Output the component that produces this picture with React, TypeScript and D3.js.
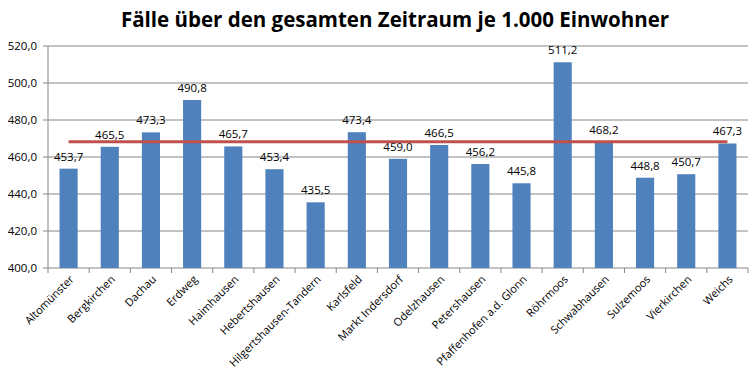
import * as d3 from 'd3';

const places = [
  'Altomünster', 'Bergkirchen', 'Dachau', 'Erdweg', 'Haimhausen', 'Hebertshausen',
  'Hilgertshausen-Tandern', 'Karlsfeld', 'Markt Indersdorf', 'Odelzhausen', 'Petershausen',
  'Pfaffenhofen a.d. Glonn', 'Röhrmoos', 'Schwabhausen', 'Sulzemoos', 'Vierkirchen', 'Weichs',
];
const cases = [
  453.7, 465.5, 473.3, 490.8, 465.7, 453.4, 435.5, 473.4, 459.0, 466.5, 456.2, 445.8, 511.2,
  468.2, 448.8, 450.7, 467.3,
];
const countyAverage = 468.3;
const yTicks = [400, 420, 440, 460, 480, 500, 520];

const W = 752;
const H = 390;
const left = 48;
const right = 748;
const top = 46;
const bottom = 268;
const font = 'Open Sans, sans-serif';

export default function App() {
  const x = d3.scaleBand<string>().domain(places).range([left, right]).paddingInner(0.56).paddingOuter(0.28);
  const y = d3.scaleLinear().domain([400, 520]).range([bottom, top]);
  const step = (right - left) / places.length;
  const fmt = (v: number) => v.toFixed(1).replace('.', ',');
  const avgLine = d3
    .line<string>()
    .x((p) => x(p)! + x.bandwidth() / 2)
    .y(() => y(countyAverage));

  return (
    <svg width={W} height={H} style={{ position: 'absolute', left: 0, top: 0 }} fontFamily={font}>
      <rect width={W} height={H} fill="#fff" />
      <text x={395} y={27} textAnchor="middle" fontSize={20.5} fontWeight="bold" fill="#000">
        Fälle über den gesamten Zeitraum je 1.000 Einwohner
      </text>
      {yTicks.map((t) => (
        <g key={t}>
          <line x1={left - 5} x2={right} y1={y(t)} y2={y(t)} stroke="#868686" />
          <text x={37} y={y(t) + 4} textAnchor="end" fontSize={11.5} fill="#000">
            {fmt(t)}
          </text>
        </g>
      ))}
      <line x1={left} x2={left} y1={top} y2={bottom + 5} stroke="#868686" />
      {places.map((_, i) => (
        <line key={i} x1={left + step * (i + 1)} x2={left + step * (i + 1)} y1={bottom} y2={bottom + 5} stroke="#868686" />
      ))}
      {places.map((p, i) => (
        <g key={p}>
          <rect x={x(p)} y={y(cases[i])} width={x.bandwidth()} height={bottom - y(cases[i])} fill="#4F81BD" />
          <text x={x(p)! + x.bandwidth() / 2} y={y(cases[i]) - 8} textAnchor="middle" fontSize={11.5} fill="#000">
            {fmt(cases[i])}
          </text>
          <text
            transform={`translate(${x(p)! + x.bandwidth() / 2 + 6},${bottom + 12}) rotate(-45)`}
            textAnchor="end"
            fontSize={11}
            fill="#000"
          >
            {p}
          </text>
        </g>
      ))}
      <path d={avgLine(places) ?? ''} stroke="#C0504D" strokeWidth={3} fill="none" />
    </svg>
  );
}
